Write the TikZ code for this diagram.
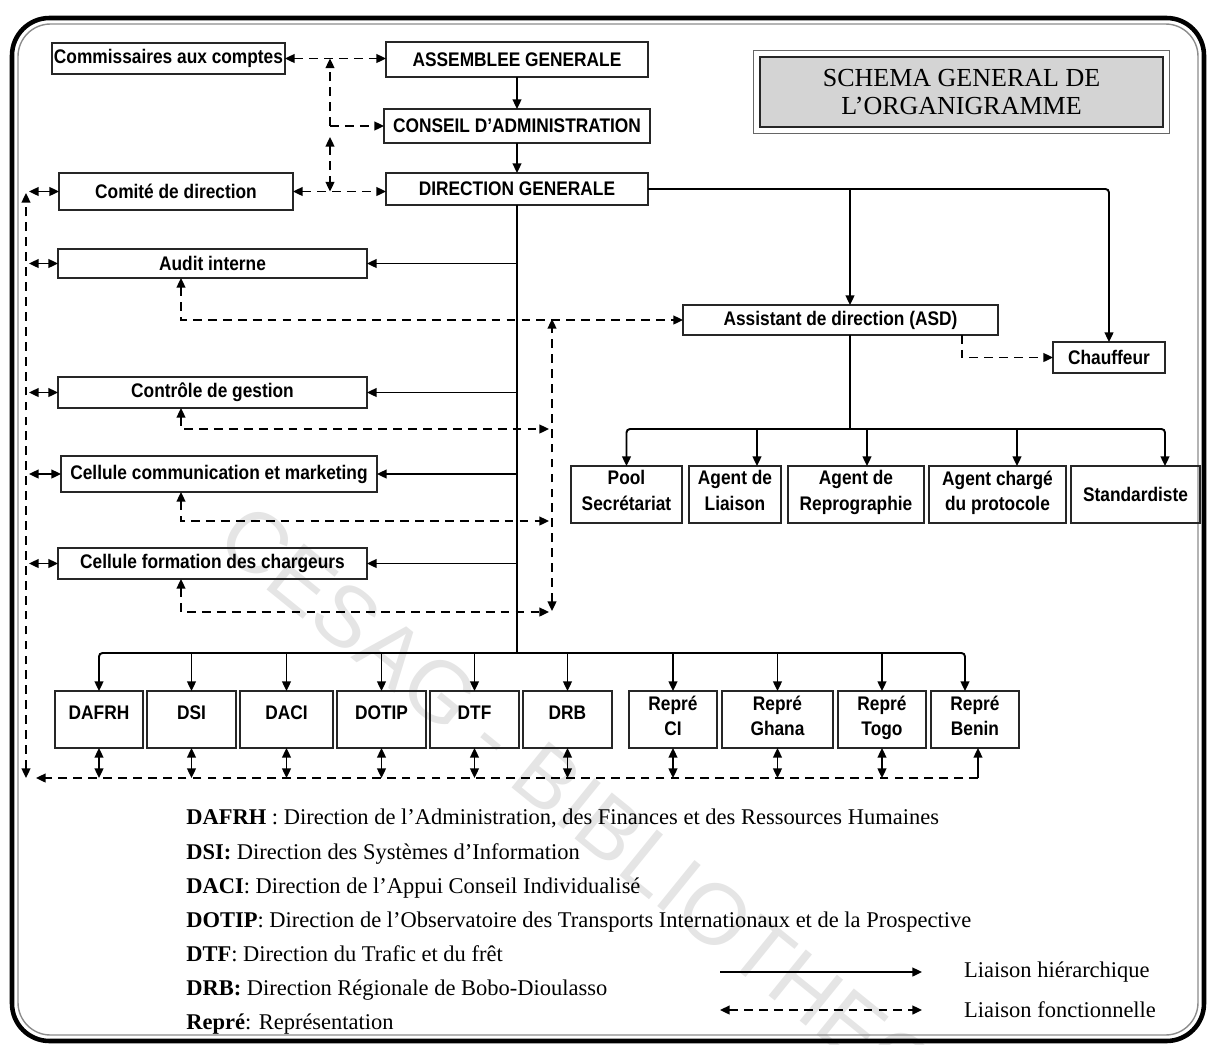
\documentclass[tikz,border=0pt]{standalone}
\usepackage{fontspec}
\setmainfont{Liberation Serif}
\newfontfamily\boxfont[FakeStretch=0.88]{Liberation Sans}
\newfontfamily\wmfont{Liberation Sans}
\usepackage{tikz}
\usetikzlibrary{positioning,arrows.meta}

\begin{document}
\begin{tikzpicture}[x=0.02cm,y=-0.02cm,>={Triangle[length=5.5pt,width=5pt]},
    box/.style={draw=black!85,line width=0.8pt,align=center,inner sep=1pt,outer sep=0pt,
      font=\boxfont\bfseries\fontsize{11.2}{14.6}\selectfont},
    boxsize/.style 2 args={minimum width=#1*0.02cm,minimum height=#2*0.02cm},
    hier/.style={line width=1.1pt,->},
    fonc/.style={line width=1.1pt,dash pattern=on 5pt off 3.5pt},
    legtext/.style={font=\fontsize{12.8}{19.4}\selectfont}]
    \useasboundingbox (0,0) rectangle (1208,1045);
    \begin{scope}
      \clip (0,0) rectangle (1208,1045);
      \node[rotate=-39,anchor=west,text=black!10,font=\wmfont\fontsize{49}{49}\selectfont] (WM) at (222,525) {CESAG - BIBLIOTHEQUE};
    \end{scope}
    \draw[line width=2.6pt,rounded corners=0.75cm] (12,18) rectangle (1204,1041);
    \draw[black!45,line width=0.8pt,rounded corners=0.65cm] (18,24) rectangle (1198,1035);

    \node[box,boxsize={233}{31}] (CAC) at (168.5,58.5) {Commissaires aux comptes};
    \node[box,boxsize={262}{35},line width=1.6pt] (AG) at (517,59.5) {ASSEMBLEE GENERALE};
    \node[box,boxsize={266}{34},below=0.64cm of AG] (CA) {CONSEIL D’ADMINISTRATION};
    \node[box,boxsize={262}{32},below=0.6cm of CA] (DG) {DIRECTION GENERALE};
    \node[box,boxsize={234}{37}] (CD) at (176,191.5) {Comité de direction};
    \node[box,boxsize={309}{29}] (AI) at (212.5,263.5) {Audit interne};
    \node[box,boxsize={309}{31}] (CG) at (212.5,392.5) {Contrôle de gestion};
    \node[box,boxsize={316}{36}] (CCM) at (219,474) {Cellule communication et marketing};
    \node[box,boxsize={309}{31}] (CFC) at (212.5,563.5) {Cellule formation des chargeurs};
    \node[box,boxsize={315}{30}] (ASD) at (840.5,320) {Assistant de direction (ASD)};
    \node[box,boxsize={112}{31}] (CH) at (1109,357.5) {Chauffeur};

    \node[draw=black!85,line width=1.4pt,fill=black!17,minimum width=8.06cm,minimum height=1.4cm,align=center,
      font=\fontsize{14.8}{16}\selectfont] (TT) at (961.5,92) {SCHEMA GENERAL DE\\L’ORGANIGRAMME};
    \draw[black!60,line width=0.6pt] ([shift={(-0.1cm,0.1cm)}]TT.north west) rectangle ([shift={(0.1cm,-0.1cm)}]TT.south east);

    \node[box,boxsize={111}{57}] (PS) at (626.5,494.5) {Pool\\Secrétariat\strut};
    \node[box,boxsize={92}{57},right=0.14cm of PS] (AL) {Agent de\\Liaison\strut};
    \node[box,boxsize={136}{57},right=0.14cm of AL] (AR) {Agent de\\Reprographie\strut};
    \node[box,boxsize={137}{57},right=0.1cm of AR] (ACP) {Agent chargé\\du protocole\strut};
    \node[box,boxsize={129}{57},right=0.1cm of ACP] (ST) {Standardiste};

    \node[box,boxsize={88}{57}] (DAFRH) at (99,719.5) {DAFRH\\[-6.8pt]\mbox{}};
    \foreach \n/\p/\w in {DSI/DAFRH/89,DACI/DSI/93,DOTIP/DACI/89,DTF/DOTIP/89,DRB/DTF/89}
      \node[box,boxsize={\w}{57},right=0.08cm of \p] (\n) {\n\\[-6.8pt]\mbox{}};
    \node[box,boxsize={88}{57},right=0.34cm of DRB] (RCI) {Repré\\CI\strut};
    \foreach \n/\p/\w/\t in {RGH/RCI/111/Ghana,RTG/RGH/88/Togo,RBN/RTG/88/Benin}
      \node[box,boxsize={\w}{57},right=0.1cm of \p] (\n) {Repré\\\t\strut};

    \draw[hier] (AG) -- (CA);
    \draw[hier] (CA) -- (DG);
    \coordinate (B1) at (DG.south |- 0,653);
    \draw[line width=1.1pt] (DG.south) -- (B1);
    \foreach \n in {AI,CG,CCM,CFC}
      \draw[hier] (B1 |- \n.east) -- (\n.east);
    \path ([xshift=-0.2cm]RBN.north) coordinate (tRBN);
    \draw[hier,rounded corners=2pt] (B1) -| (DAFRH.north);
    \draw[hier,rounded corners=2pt] (B1) -| (tRBN);
    \foreach \n in {DSI,DACI,DOTIP,DTF,DRB,RCI,RGH,RTG}
      \draw[hier] (B1 -| \n.north) -- (\n.north);

    \draw[hier,rounded corners=2pt] (DG.east) -| (CH.north);
    \coordinate (A1) at ([xshift=0.19cm]ASD.north);
    \coordinate (A2) at ([xshift=0.19cm]ASD.south);
    \draw[hier] (DG.east -| A1) -- (A1);
    \coordinate (B2) at (A2 |- 0,429);
    \draw[line width=1.1pt] (A2) -- (B2);
    \path ([xshift=0.59cm]ST.north) coordinate (tST);
    \draw[hier,rounded corners=2pt] (B2) -| (PS.north);
    \draw[hier,rounded corners=2pt] (B2) -| (tST);
    \foreach \n/\s in {AL/0.44,AR/0.22,ACP/0.39} {
      \path ([xshift=\s cm]\n.north) coordinate (t\n);
      \draw[hier] (B2 -| t\n) -- (t\n);
    }
    \draw[fonc,->] ([xshift=2.43cm]ASD.south) |- (CH.west);

    \draw[fonc,<->] (CAC.east) -- (CAC.east -| AG.west);
    \coordinate (J) at (330,126);
    \draw[fonc,->] (J) -- (J |- CAC.east);
    \draw[fonc,->] (J) -- (J -| CA.west);
    \draw[fonc,<->] ([yshift=-0.22cm]J) -- (J |- CD.east);
    \draw[fonc,<->] (CD.east) -- (CD.east -| DG.west);

    \coordinate (L1) at (26,193);
    \coordinate (L2) at (26,778);
    \coordinate (L) at (29,0);
    \draw[fonc,<->] (L2) -- (L1);
    \foreach \n in {CD,AI,CG,CCM,CFC}
      \draw[<->,line width=1.1pt] (L |- \n.west) -- (\n.west);
    \foreach \n in {DAFRH,DSI,DACI,DOTIP,DTF,DRB,RCI,RGH,RTG}
      \draw[<->,line width=1.1pt] (\n.south) -- (\n.south |- L2);
    \path ([xshift=0.06cm]RBN.south) coordinate (rb);
    \draw[->,line width=1.1pt] (rb |- L2) -- (rb);
    \draw[fonc,->] (rb |- L2) -- ([xshift=0.2cm]L2);

    \coordinate (V1) at (552,319);
    \coordinate (V2) at (552,611);
    \draw[fonc,<->] (V2) -- (V1);
    \coordinate (lx) at (181,0);
    \draw[fonc,<->] (lx |- AI.south) |- (ASD.west);
    \foreach \n/\y in {CG/429,CCM/521,CFC/612} {
      \coordinate (e\n) at (549,\y);
      \draw[fonc,<->] (lx |- \n.south) |- (e\n);
    }

    \node[legtext,anchor=north west,align=left,inner sep=0] (LEG) at (186,809) {%
      \textbf{DAFRH} : Direction de l’Administration, des Finances et des Ressources Humaines\\
      \textbf{DSI:} Direction des Systèmes d’Information\\
      \textbf{DACI}: Direction de l’Appui Conseil Individualisé\\
      \textbf{DOTIP}: Direction de l’Observatoire des Transports Internationaux et de la Prospective\\
      \textbf{DTF}: Direction du Trafic et du frêt\\
      \textbf{DRB:} Direction Régionale de Bobo-Dioulasso\\
      \textbf{Repré}: Représentation};
    \node[legtext,anchor=west] (LH) at (958,972) {Liaison hiérarchique};
    \node[legtext,anchor=west] (LF) at (958,1010) {Liaison fonctionnelle};
    \coordinate (h1) at (720,972);
    \coordinate (f1) at (720,1010);
    \draw[hier] (h1) -- ([xshift=-0.72cm]LH.west);
    \draw[fonc,<->] (f1) -- ([xshift=-0.72cm]LF.west);
\end{tikzpicture}
\end{document}
